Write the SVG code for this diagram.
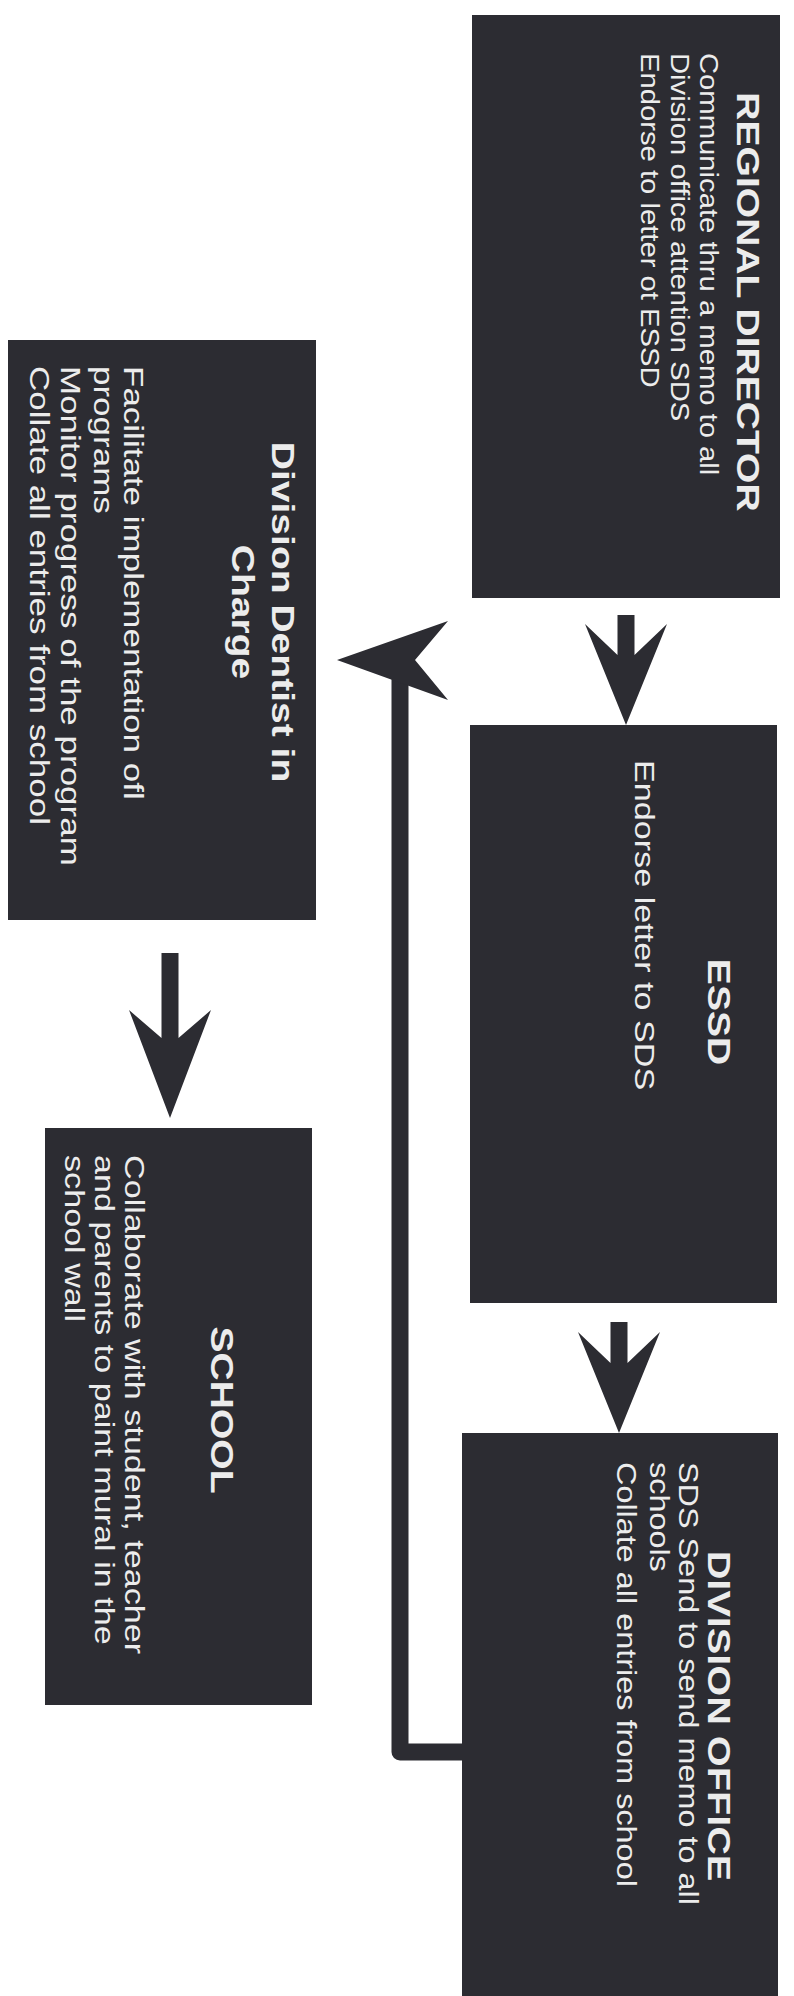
<svg xmlns="http://www.w3.org/2000/svg" width="794" height="1996" viewBox="0 0 794 1996">
<style>
.box{fill:#2c2c32;}
.t{font-family:"Liberation Sans",Arial,Helvetica,sans-serif;fill:#ececec;}
.h{font-size:32px;font-weight:bold;text-anchor:middle;}
.b{font-size:28px;}
.s{font-size:25px;}
.m{font-size:27px;}
.arr{fill:#2c2c32;}
.line{fill:none;stroke:#2c2c32;stroke-width:17;stroke-linejoin:round;}
</style>
<rect x="0" y="0" width="794" height="1996" fill="#ffffff"/>
<g id="connectors">
<polygon class="arr" points="617.5,615 617.5,655 585,624 626,725 667,624 634.5,655 634.5,615"/>
<polygon class="arr" points="610.5,1322 610.5,1363 578,1332 619,1433 660,1332 627.5,1363 627.5,1322"/>
<polygon class="arr" points="161.5,953 161.5,1038 129,1010 170,1118 211,1010 178.5,1038 178.5,953"/>
<path class="line" d="M 466 1752 H 400 V 668"/>
<polygon class="arr" points="337,660 448,621 415,660 448,700"/>
</g>
<g id="regional-director">
<rect class="box" x="472" y="15" width="308" height="583"/>
<text class="t h" transform="translate(737 302) rotate(90) scale(1.22 1)">REGIONAL DIRECTOR</text>
<text class="t s" transform="translate(700 53) rotate(90) scale(1.17 1)">Communicate thru a memo to all</text>
<text class="t s" transform="translate(671 53) rotate(90) scale(1.17 1)">Division office attention SDS</text>
<text class="t s" transform="translate(641 53) rotate(90) scale(1.17 1)">Endorse to letter ot ESSD</text>
</g>
<g id="essd">
<rect class="box" x="470" y="725" width="307" height="578"/>
<text class="t h" transform="translate(708 1012) rotate(90) scale(1.22 1)">ESSD</text>
<text class="t b" transform="translate(635 760) rotate(90) scale(1.22 1)">Endorse letter to SDS</text>
</g>
<g id="division-office">
<rect class="box" x="462" y="1433" width="316" height="563"/>
<text class="t h" transform="translate(708 1716) rotate(90) scale(1.24 1)">DIVISION OFFICE</text>
<text class="t m" transform="translate(679 1462) rotate(90) scale(1.2 1)">SDS Send to send memo to all</text>
<text class="t m" transform="translate(650 1462) rotate(90) scale(1.2 1)">schools</text>
<text class="t m" transform="translate(617 1462) rotate(90) scale(1.2 1)">Collate all entries from school</text>
</g>
<g id="division-dentist">
<rect class="box" x="8" y="340" width="308" height="580"/>
<text class="t h" transform="translate(272 612) rotate(90) scale(1.22 1)">Division Dentist in</text>
<text class="t h" transform="translate(232 612) rotate(90) scale(1.22 1)">Charge</text>
<text class="t b" transform="translate(124 366) rotate(90) scale(1.25 1)">Facilitate implementation ofl</text>
<text class="t b" transform="translate(94 366) rotate(90) scale(1.25 1)">programs</text>
<text class="t b" transform="translate(61 366) rotate(90) scale(1.25 1)">Monitor progress of the program</text>
<text class="t b" transform="translate(30 366) rotate(90) scale(1.25 1)">Collate all entries from school</text>
</g>
<g id="school">
<rect class="box" x="45" y="1128" width="267" height="577"/>
<text class="t h" transform="translate(211 1410) rotate(90) scale(1.22 1)">SCHOOL</text>
<text class="t b" transform="translate(125 1155) rotate(90) scale(1.22 1)">Collaborate with student, teacher</text>
<text class="t b" transform="translate(95 1155) rotate(90) scale(1.22 1)">and parents to paint mural in the</text>
<text class="t b" transform="translate(65 1155) rotate(90) scale(1.22 1)">school wall</text>
</g>
</svg>
